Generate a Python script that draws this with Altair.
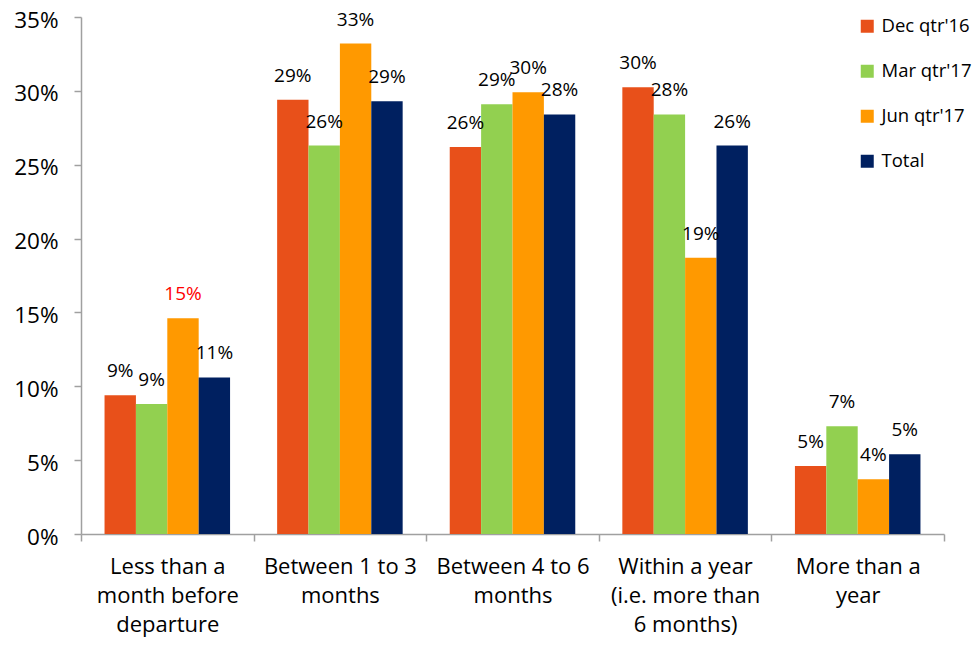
import altair as alt
import pandas as pd

categories = [
    "Less than a\nmonth before\ndeparture",
    "Between 1 to 3\nmonths",
    "Between 4 to 6\nmonths",
    "Within a year\n(i.e. more than\n6 months)",
    "More than a\nyear",
]
series = ["Dec qtr'16", "Mar qtr'17", "Jun qtr'17", "Total"]
dec_q16 = [0.094, 0.294, 0.262, 0.3025, 0.046]
mar_q17 = [0.088, 0.263, 0.291, 0.284, 0.073]
jun_q17 = [0.146, 0.332, 0.299, 0.187, 0.037]
total = [0.106, 0.293, 0.284, 0.263, 0.054]
colors = ["#E8501A", "#92D050", "#FF9900", "#002060"]
y_ticks = [0, 0.05, 0.10, 0.15, 0.20, 0.25, 0.30, 0.35]

rows = []
for si, (s, vals) in enumerate(zip(series, [dec_q16, mar_q17, jun_q17, total])):
    for ci, (c, v) in enumerate(zip(categories, vals)):
        rows.append({"category": c, "series": s, "value": v, "ci": ci, "si": si})
df = pd.DataFrame(rows)

FONT = "Open Sans"

base = alt.Chart(df).encode(
    x=alt.X(
        "category:N",
        sort=categories,
        scale=alt.Scale(paddingInner=0, paddingOuter=0),
        axis=alt.Axis(
            title=None,
            labelAngle=0,
            tickBand="extent",
            labelExpr="split(datum.label, '\\n')",
            labelFont=FONT,
            labelFontSize=22,
            labelColor="#000000",
            labelLineHeight=29,
            labelPadding=15,
            labelBaseline="top",
        ),
    ),
    xOffset=alt.XOffset(
        "series:N", sort=series, scale=alt.Scale(paddingOuter=0.75, paddingInner=0)
    ),
    y=alt.Y(
        "value:Q",
        scale=alt.Scale(domain=[0, 0.35], nice=False),
        axis=alt.Axis(
            title=None,
            values=y_ticks,
            format=".0%",
            grid=False,
            labelFont=FONT,
            labelFontSize=22.5,
            labelColor="#000000",
            labelPadding=16,
            labelOffset=3,
        ),
    ),
)

bars = base.mark_bar().encode(
    color=alt.Color(
        "series:N",
        scale=alt.Scale(domain=series, range=colors),
        legend=alt.Legend(
            title=None,
            orient="none",
            legendX=777,
            legendY=0,
            symbolType="square",
            symbolSize=169,
            symbolStrokeWidth=0,
            labelFont=FONT,
            labelFontSize=18.5,
            labelColor="#000000",
            labelOffset=5,
            rowPadding=26,
        ),
    )
)

labels = base.mark_text(
    dy=-24, baseline="middle", align="center", font=FONT, fontSize=19
).encode(
    text=alt.Text("value:Q", format=".0%"),
    color=alt.condition(
        "datum.ci == 0 && datum.si == 2", alt.value("#FF0000"), alt.value("#000000")
    ),
)

chart = (
    alt.layer(bars, labels)
    .properties(
        width=863,
        height=517,
        autosize=alt.AutoSizeParams(type="none"),
        padding={"left": 73, "top": 9, "right": 28, "bottom": 106},
    )
    .configure_view(stroke=None)
    .configure_axis(
        domainColor="#A0A0A0",
        domainWidth=1.5,
        tickColor="#A0A0A0",
        tickWidth=1.5,
        tickSize=7,
    )
)

chart.save("out.html", embed_options={"renderer": "svg", "actions": False})
